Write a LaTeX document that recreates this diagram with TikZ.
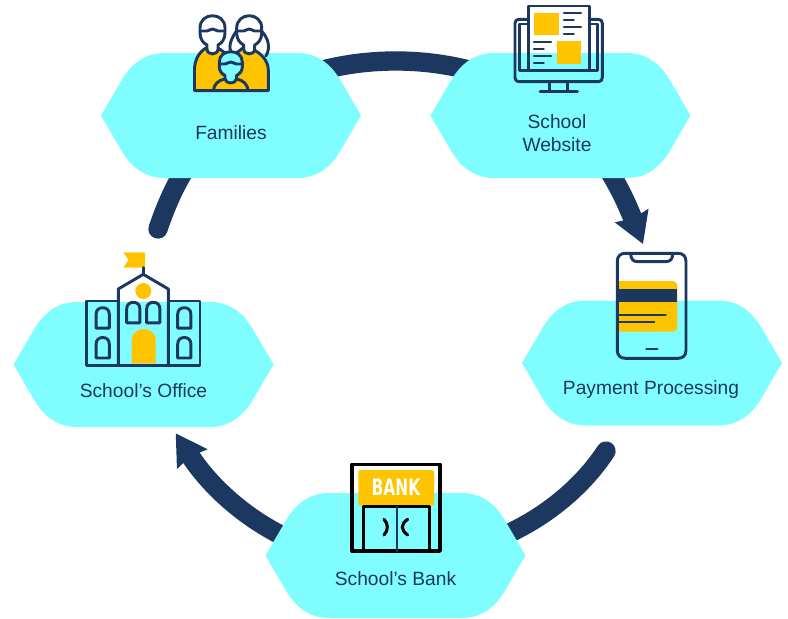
\documentclass[tikz,border=0pt]{standalone}
\usepackage{fontspec}
\setmainfont{Liberation Sans}
\newfontfamily\signfont{DejaVu Sans}
\usetikzlibrary{arrows.meta,backgrounds}

\definecolor{hexcyan}{HTML}{7FFDFF}
\definecolor{navyline}{HTML}{1C3860}
\definecolor{iconyellow}{HTML}{FFC400}

\tikzset{
  every picture/.style={line width=0.75pt},
  hexblob/.style={inner sep=0pt,outer sep=0pt,minimum width=195pt,minimum height=93.75pt,
    path picture={\fill[hexcyan,x=0.75pt,y=0.75pt,shift={(path picture bounding box.center)}]
      (-130,0) -- (-109,-36) .. controls (-98,-54) and (-84,-62.5) .. (-66,-62.5) -- (66,-62.5)
      .. controls (84,-62.5) and (98,-54) .. (109,-36) -- (130,0) -- (109,36)
      .. controls (98,54) and (84,62.5) .. (66,62.5) -- (-66,62.5)
      .. controls (-84,62.5) and (-98,54) .. (-109,36) -- cycle ;}},
  hextext/.style={text=navyline,font=\fontsize{14.4pt}{17pt}\selectfont,align=center,inner sep=0.75pt},
  flowarc/.style={draw=navyline,line width=14.5pt,line cap=round},
  flowarrow/.style={flowarc,-{Stealth[length=22.5pt,width=26pt,inset=2pt]}},
  iconline/.style={draw=navyline,line width=2.2pt,line join=round,line cap=round},
  thinline/.style={draw=navyline,line width=1.7pt,line cap=round},
  bankline/.style={draw=black,line width=2.5pt,line join=round,line cap=round}
}

\begin{document}
\begin{tikzpicture}[x=0.75pt,y=0.75pt,yscale=-1,xscale=1]
\useasboundingbox (0,0) rectangle (788,618);

%Hexagons
\node [hexblob] (families) at (231,115.5) {};
\node [hexblob] (website) at (560.5,115.5) {};
\node [hexblob] (payment) at (652,363) {};
\node [hexblob] (bank) at (395.5,555.5) {};
\node [hexblob] (office) at (143.5,364.5) {};

%Free ends of the curve lines
\coordinate (officeOut) at (158,229);
\coordinate (paymentIn) at (643,244);
\coordinate (paymentOut) at (606,451);
\coordinate (officeIn) at (175.7,433.3);

%Curve Lines
\begin{scope}[on background layer]
\draw [flowarc] (officeOut) .. controls (173,184) and (195,146) .. (families.center);
\draw [flowarc] (families.center) .. controls (317,42.8) and (474.5,42.8) .. (website.center);
\draw [flowarrow] (website.center) .. controls (603,150) and (623,194) .. (paymentIn);
\draw [flowarc] (paymentOut) .. controls (562,518) and (475,562) .. (bank.center);
\draw [flowarrow] (bank.center) .. controls (310,570) and (225,510) .. (officeIn);
\end{scope}

% Text Node
\node [hextext] (familiesText) at (231,133) {Families};
\node [hextext] (websiteText) at (557,133) {School\\Website};
\node [hextext] (paymentText) at (651,389.5) {Payment Processing};
\node [hextext] (bankText) at (395.5,578.5) {School’s Bank};
\node [hextext] (officeText) at (143.5,390.5) {School’s Office};

%Icon: family
\draw [iconline] (236.5,31) .. controls (230,40) and (228,48) .. (232,54) ;
\draw [iconline] (261.5,31) .. controls (268,38) and (271,47) .. (266,56) ;
\draw [iconline,fill=iconyellow] (194.5,90.7) -- (194.5,70) .. controls (194.5,60) and (199,52) .. (206,48) -- (218,48) -- (231,57) -- (243,48) -- (250,48) .. controls (260,52) and (268.3,60) .. (268.3,70) -- (268.3,90.7) -- cycle ;
\draw [iconline,fill=white] (200,28) .. controls (200,20) and (206,15.7) .. (212.5,15.7) .. controls (219,15.7) and (225,20) .. (225,28) -- (225,33) .. controls (225,39) and (222,43) .. (218,45) -- (218,49) .. controls (218,55.5) and (207,55.5) .. (207,49) -- (207,45) .. controls (203,43) and (200,39) .. (200,33) -- cycle ;
\draw [iconline] (200,31) -- (207,31) .. controls (209,31) and (210,29) .. (212.5,29) .. controls (215,29) and (216,31) .. (218,31) -- (225,31) ;
\draw [iconline,fill=white] (236.7,28) .. controls (236.7,20) and (243,15.7) .. (249.2,15.7) .. controls (255.5,15.7) and (261.7,20) .. (261.7,28) -- (261.7,33) .. controls (261.7,39) and (258.7,43) .. (254.7,45) -- (254.7,49) .. controls (254.7,55.5) and (243.7,55.5) .. (243.7,49) -- (243.7,45) .. controls (239.7,43) and (236.7,39) .. (236.7,33) -- cycle ;
\draw [iconline] (236.7,31) -- (243.7,31) .. controls (245.7,31) and (246.7,29) .. (249.2,29) .. controls (251.7,29) and (252.7,31) .. (254.7,31) -- (261.7,31) ;
\draw [iconline] (213.5,90.7) .. controls (213.5,85) and (218,80) .. (225,79) ;
\draw [iconline] (248,90.7) .. controls (248,85) and (243.5,80) .. (236.5,79) ;
\draw [iconline,fill=hexcyan] (219.3,62) .. controls (219.3,55) and (225,51.7) .. (230.8,51.7) .. controls (236.5,51.7) and (242.3,55) .. (242.3,62) -- (242.3,67) .. controls (242.3,71) and (239.5,74) .. (236.5,75.5) -- (236.5,78.5) .. controls (236.5,84.5) and (225,84.5) .. (225,78.5) -- (225,75.5) .. controls (222,74) and (219.3,71) .. (219.3,67) -- cycle ;
\draw [iconline] (219.3,64) -- (225,64) .. controls (227,64) and (228.5,62) .. (230.8,62) .. controls (233,62) and (234.5,64) .. (236.5,64) -- (242.3,64) ;

%Icon: monitor
\fill [iconyellow] (533.7,12.7) rectangle (558.7,35.3);
\fill [iconyellow] (556.7,41) rectangle (581.3,64);
\draw [iconline] (528.3,19.3) -- (519,19.3) .. controls (516.5,19.3) and (515,20.8) .. (515,23.3) -- (515,77.7) .. controls (515,80.2) and (516.5,81.7) .. (519,81.7) -- (598.3,81.7) .. controls (600.8,81.7) and (602.3,80.2) .. (602.3,77.7) -- (602.3,23.3) .. controls (602.3,20.8) and (600.8,19.3) .. (598.3,19.3) -- (589.3,19.3) ;
\draw [iconline] (528.3,24) -- (519.3,24) -- (519.3,70.7) -- (597.7,70.7) -- (597.7,24) -- (589.3,24) ;
\draw [iconline] (528.3,70.7) -- (528.3,6) -- (589.3,6) -- (589.3,70.7) ;
\draw [iconline] (549.3,81.7) -- (549.3,91.7) (567.7,81.7) -- (567.7,91.7) (540,91.7) -- (577.3,91.7) ;
\foreach \lx/\ly/\lw in {564/13.3/17,564/20.3/9.7,564/27.3/17,564/34.3/9.7,534/42/17,534/49.3/9.7,534/56/17,534/63/9.7}
  \draw [thinline] (\lx,\ly) -- ++(\lw,0) ;

%Icon: phone and card
\fill [iconyellow] (617.3,281) -- (672,281) .. controls (675.3,281) and (677.3,283) .. (677.3,286.3) -- (677.3,326.4) .. controls (677.3,329.7) and (675.3,331.7) .. (672,331.7) -- (617.3,331.7) -- cycle ;
\fill [navyline] (617.3,289.3) rectangle (677.3,302.3);
\draw [thinline] (617.3,315.3) -- (665.7,315.3) (617.3,322) -- (654.3,322) ;
\draw [iconline] (625.3,253.3) -- (678,253.3) .. controls (683,253.3) and (686,256.3) .. (686,261.3) -- (686,350.3) .. controls (686,355.3) and (683,358.3) .. (678,358.3) -- (625.3,358.3) .. controls (620.3,358.3) and (617.3,355.3) .. (617.3,350.3) -- (617.3,261.3) .. controls (617.3,256.3) and (620.3,253.3) .. (625.3,253.3) -- cycle ;
\draw [iconline] (630.7,253.3) .. controls (630.7,259) and (633,261.7) .. (638,261.7) -- (665.4,261.7) .. controls (670.4,261.7) and (672.7,259) .. (672.7,253.3) ;
\draw [thinline,line width=2.2pt] (646.5,349) -- (657.2,349) ;

%Icon: bank
\fill [iconyellow,rounded corners=1.5pt] (358.3,470) rectangle (434,505.7);
\draw [bankline] (352,464.3) rectangle (440,551);
\draw [bankline] (363.3,551) -- (363.3,506.7) -- (429.3,506.7) -- (429.3,551) ;
\draw [thinline] (396.7,506.7) -- (396.7,551) ;
\draw [bankline,line width=2.3pt] (384,519.3) .. controls (388.5,524) and (388.5,530) .. (384,535) ;
\draw [bankline,line width=2.3pt] (407.7,519.3) .. controls (400.5,524) and (400.5,530) .. (407.7,535) ;
\node [text=white,font=\signfont\fontsize{17pt}{18pt}\bfseries\selectfont,inner sep=0pt,xscale=0.68] (bankSign) at (396,487.5) {BANK};

%Icon: school
\fill [iconyellow,rounded corners=0.6pt] (123.3,252.3) -- (145,252.3) -- (145,267.7) -- (123.3,267.7) -- (128.5,260) -- cycle ;
\fill [iconyellow] (143.3,291) circle [radius=8];
\fill [iconyellow] (131.7,363.3) -- (131.7,341) .. controls (131.7,333) and (137,329) .. (143.7,329) .. controls (150.4,329) and (155.7,333) .. (155.7,341) -- (155.7,363.3) -- cycle ;
\draw [iconline] (143.3,267.7) -- (143.3,274.3) ;
\draw [iconline] (118.3,365.7) -- (118.3,289) -- (143.3,274.3) -- (168.3,289) -- (168.3,365.7) ;
\draw [iconline] (118.3,301) -- (86.7,301) -- (86.7,365.7) -- (200,365.7) -- (200,301) -- (168.3,301) ;
\foreach \wx/\wy in {133.3/302.3,153.3/302.3,102.7/307.7,102.7/337.5,184.3/307.7,184.3/337.5}
  \draw [iconline,shift={(\wx,\wy)}] (-6.6,20.5) -- (-6.6,6.6) .. controls (-6.6,2) and (-3.5,0) .. (0,0) .. controls (3.5,0) and (6.6,2) .. (6.6,6.6) -- (6.6,20.5) -- cycle ;

\end{tikzpicture}
\end{document}
